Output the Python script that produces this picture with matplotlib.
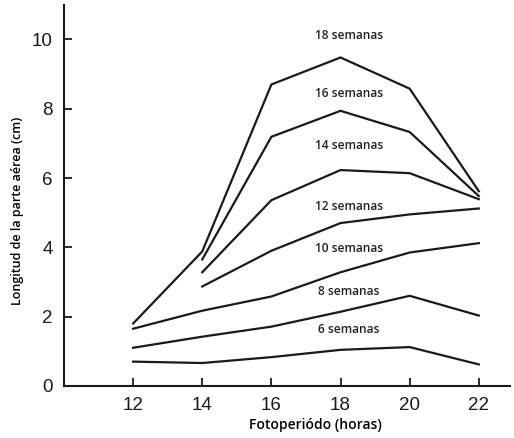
import matplotlib
matplotlib.use("Agg")
import matplotlib.pyplot as plt

# Fotoperiodo (horas)
horas = [12, 14, 16, 18, 20, 22]

# Longitud de la parte aérea (cm) por edad de la planta
sem_6 = [0.70, 0.66, 0.83, 1.04, 1.12, 0.62]
sem_8 = [1.10, 1.42, 1.71, 2.14, 2.60, 2.03]
sem_10 = [1.65, 2.17, 2.58, 3.28, 3.85, 4.12]
sem_12 = [2.87, 3.90, 4.70, 4.95, 5.12]
sem_14 = [3.28, 5.36, 6.23, 6.14, 5.39]
sem_16 = [3.65, 7.19, 7.94, 7.33, 5.48]
sem_18 = [1.80, 3.88, 8.70, 9.48, 8.58, 5.62]

etiquetas = ["6 semanas", "8 semanas", "10 semanas", "12 semanas",
             "14 semanas", "16 semanas", "18 semanas"]
etiqueta_y = [1.62, 2.72, 3.97, 5.19, 6.93, 8.43, 10.10]

fig = plt.figure(figsize=(5.14, 4.38), dpi=100)
ax = fig.add_axes([0.1245, 0.119, 0.8675, 0.87])

series = [(horas, sem_6), (horas, sem_8), (horas, sem_10),
          (horas[1:], sem_12), (horas[1:], sem_14), (horas[1:], sem_16),
          (horas, sem_18)]
for xs, ys in series:
    ax.plot(xs, ys, color="#1a1a1a", lw=1.6, solid_joinstyle="miter")

for txt, yy in zip(etiquetas, etiqueta_y):
    ax.text(18.25, yy, txt, ha="center", va="center", fontsize=8.6,
            family="Open Sans", weight="semibold", color="#222222")

ax.set_xlim(10, 22.9)
ax.set_ylim(0, 11)
ax.set_xticks(horas)
ax.set_yticks([0, 2, 4, 6, 8, 10])
ax.spines["top"].set_visible(False)
ax.spines["right"].set_visible(False)
for s in ["left", "bottom"]:
    ax.spines[s].set_linewidth(1.5)
    ax.spines[s].set_color("#1a1a1a")
ax.tick_params(direction="in", length=6, width=1.3, labelsize=13.5,
               pad=8, colors="#1a1a1a")
for lab in ax.get_xticklabels() + ax.get_yticklabels():
    lab.set_family("Liberation Sans")

ax.set_xlabel("Fotoperiódo (horas)", fontsize=10, family="Open Sans",
              weight="semibold")
ax.xaxis.set_label_coords(0.563, -0.085)
ax.set_ylabel("Longitud de la parte aérea (cm)", fontsize=9, family="Open Sans",
              weight="semibold")
ax.yaxis.set_label_coords(-0.09, 0.46)

fig.savefig("out.png", dpi=100)
